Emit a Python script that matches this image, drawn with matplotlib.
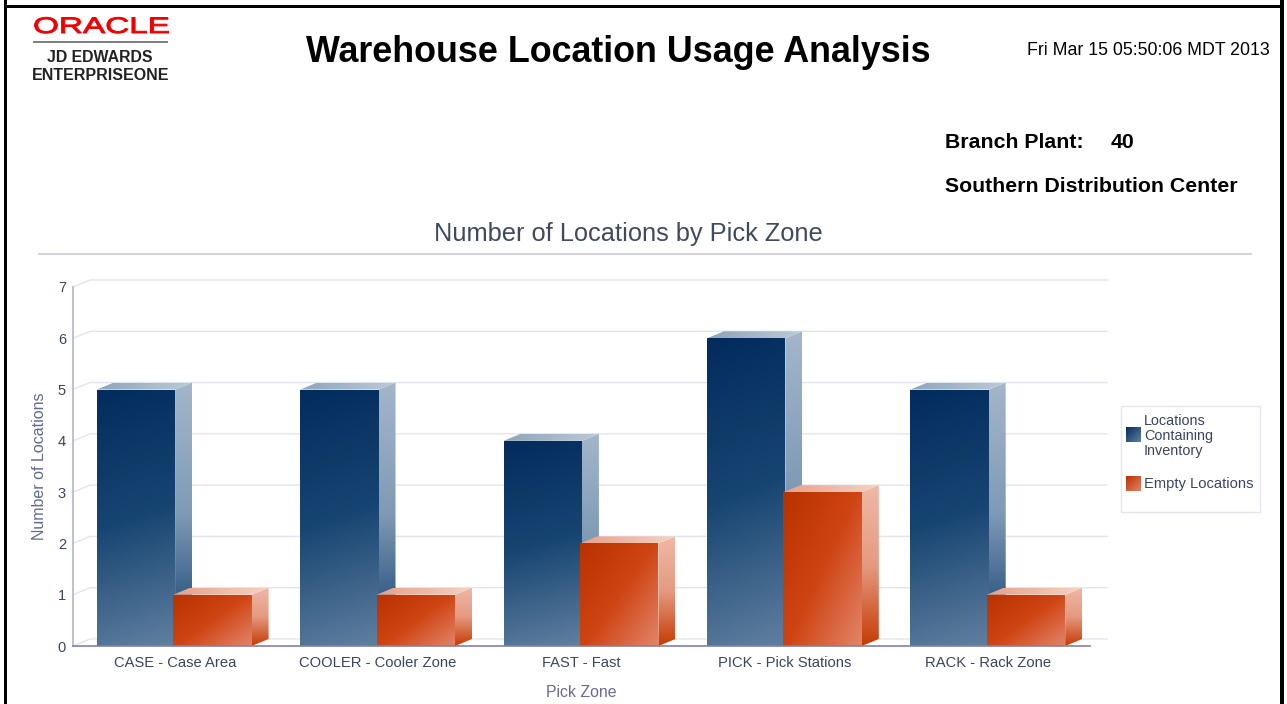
import numpy as np
import matplotlib
matplotlib.use('Agg')
import matplotlib.pyplot as plt
from matplotlib.colors import LinearSegmentedColormap
from matplotlib.patches import Polygon, Rectangle
from matplotlib.patheffects import AbstractPathEffect
from matplotlib.transforms import Affine2D

W, H = 1287, 704

zones = ['CASE - Case Area', 'COOLER - Cooler Zone', 'FAST - Fast',
         'PICK - Pick Stations', 'RACK - Rack Zone']
with_inventory = [5, 5, 4, 6, 5]
empty = [1, 1, 2, 3, 1]
y_ticks = [0, 1, 2, 3, 4, 5, 6, 7]

plt.rcParams['font.family'] = ['Liberation Sans', 'DejaVu Sans']

BLUE = dict(front=('#032c5c', '#174572', '#5f7f9f'), side=('#a3b6ca', '#7f9ab5', '#0f3d6e'),
            top=('#8ea5bb', '#bccad8'), front_dir=(0.1, 1.0), side_dir=(0.0, 1.0))
ORANGE = dict(front=('#b93200', '#cf4413', '#e2846a'), side=('#efb8a6', '#e59a80', '#c63c05'),
              top=('#e8a088', '#f6d2c4'), front_dir=(1.0, 0.9), side_dir=(0.0, 1.0))


def px_x(x):
    return x / W


def px_y(y):
    return 1 - y / H


class StretchX(AbstractPathEffect):
    # the logo lettering is much wider than any installed font
    def __init__(self, sx, x0):
        super().__init__()
        self.sx = sx
        self.x0 = x0

    def draw_path(self, renderer, gc, tpath, affine, rgbFace=None):
        stretch = Affine2D().translate(-self.x0, 0).scale(self.sx, 1).translate(self.x0, 0)
        gc.set_linewidth(0.7)
        renderer.draw_path(gc, tpath, affine + stretch, rgbFace)


def gradient_face(ax, corners, colors, direction, zorder):
    corners = np.array(corners)
    xmin, ymin = corners.min(axis=0)
    xmax, ymax = corners.max(axis=0)
    u, v = np.meshgrid(np.linspace(0, 1, 64), np.linspace(0, 1, 64))
    a, b = direction
    grad = (a * u + b * v) / (a + b)
    cmap = LinearSegmentedColormap.from_list('face', colors)
    im = ax.imshow(grad, cmap=cmap, extent=(xmin, xmax, ymin, ymax), origin='upper',
                   aspect='auto', zorder=zorder, vmin=0, vmax=1, interpolation='bilinear')
    clip = Polygon(corners, closed=True, transform=ax.transData)
    im.set_clip_path(clip)


def bar_3d(ax, left, width, value, dx, dy, style, zorder):
    right = left + width
    gradient_face(ax, [(right, 0), (right + dx, dy), (right + dx, value + dy), (right, value)],
                  style['side'], style['side_dir'], zorder)
    gradient_face(ax, [(left, value), (right, value), (right + dx, value + dy), (left + dx, value + dy)],
                  style['top'], (1.0, 0.0), zorder)
    gradient_face(ax, [(left, 0), (right, 0), (right, value), (left, value)],
                  style['front'], style['front_dir'], zorder + 0.1)


fig = plt.figure(figsize=(W / 100, H / 100), dpi=100, facecolor='white')

# page frame
fig.add_artist(Rectangle((px_x(3.5), px_y(704)), (7 - 3.5) / W, 704 / H, color='black', lw=0, transform=fig.transFigure))
fig.add_artist(Rectangle((px_x(3.5), px_y(7.5)), (1284 - 3.5) / W, 2.5 / H, color='black', lw=0, transform=fig.transFigure))
fig.add_artist(Rectangle((px_x(1280), px_y(704)), 4 / W, 704 / H, color='black', lw=0, transform=fig.transFigure))

# plot area, 73..1090 px across and 287..646 px down
ax = fig.add_axes([px_x(73), px_y(646), (1090 - 73) / W, (646 - 287) / H])
ax.set_xlim(-0.5, 4.5)
ax.set_ylim(0, 7)
ax.patch.set_visible(False)

DX = 17 / (1017 / 5)
DY = 7 / (359 / 7)
BAR_W = 0.385

for v in y_ticks:
    ax.plot([-0.5, -0.5 + DX, 4.5 + DX], [v, v + DY, v + DY], color='#e4e4ef', lw=1.0,
            clip_on=False, zorder=1, solid_joinstyle='miter')

for i in range(len(zones)):
    bar_3d(ax, i - 0.383, BAR_W, with_inventory[i], DX, DY, BLUE, 2)
for i in range(len(zones)):
    bar_3d(ax, i - 0.007, BAR_W, empty[i], DX, DY, ORANGE, 3)

ax.set_xlim(-0.5, 4.5)
ax.set_ylim(0, 7)

for side in ['top', 'right']:
    ax.spines[side].set_visible(False)
ax.spines['left'].set_color('#b4b4d0')
ax.spines['left'].set_linewidth(1.2)
ax.spines['bottom'].set_color('#8080aa')
ax.spines['bottom'].set_linewidth(1.2)
ax.spines['left'].set_zorder(5)
ax.spines['bottom'].set_zorder(5)

ax.set_xticks(range(len(zones)))
ax.set_xticklabels(zones, fontsize=10.6, color='#3a4560')
ax.set_yticks(y_ticks)
ax.set_yticklabels([str(v) for v in y_ticks], fontsize=10.5, color='#3a4560')
ax.tick_params(axis='x', length=0, pad=7)
ax.tick_params(axis='y', length=0, pad=5)
ax.set_xlabel('Pick Zone', fontsize=11.4, color='#6a6a9c', labelpad=11)
ax.set_ylabel('Number of Locations', fontsize=11.5, color='#5e6a92', labelpad=8)

# report header
fig.text(px_x(33), px_y(33), 'ORACLE', fontsize=16.2, color='#f00000', ha='left', va='baseline',
         path_effects=[StretchX(1.48, 33)])
fig.add_artist(Rectangle((px_x(33), px_y(43)), 135 / W, 1.6 / H, color='#808080', lw=0, transform=fig.transFigure))
fig.text(px_x(100), px_y(57), 'JD EDWARDS', fontsize=11.4, fontweight='bold', color='#222222', ha='center', va='center')
fig.text(px_x(101), px_y(76), 'ENTERPRISEONE', fontsize=11.5, fontweight='bold', color='#222222', ha='center', va='center')
fig.text(px_x(618.5), px_y(52), 'Warehouse Location Usage Analysis', fontsize=25.8, fontweight='bold',
         color='black', ha='center', va='center')
fig.text(px_x(1270), px_y(50.5), 'Fri Mar 15 05:50:06 MDT 2013', fontsize=12.8, color='black', ha='right', va='center')
fig.text(px_x(945), px_y(142), 'Branch Plant:', fontsize=15.3, fontweight='bold', color='black', ha='left', va='center')
fig.text(px_x(1111), px_y(142), '40', fontsize=15.3, fontweight='bold', color='black', ha='left', va='center')
fig.text(px_x(945), px_y(186), 'Southern Distribution Center', fontsize=15.3, fontweight='bold', color='black', ha='left', va='center')

# chart title and rule
fig.text(px_x(628), px_y(234), 'Number of Locations by Pick Zone', fontsize=18.3, color='#3f4a5e', ha='center', va='center')
fig.add_artist(Rectangle((px_x(38), px_y(255)), 1214 / W, 1.6 / H, color='#d2d2e6', lw=0, transform=fig.transFigure))

# legend
fig.add_artist(Rectangle((px_x(1120.5), px_y(512)), 139 / W, 106 / H, facecolor='white', edgecolor='#e6e6f0',
                         lw=1, transform=fig.transFigure))
for top, colors in [(427, ('#032c5c', '#5f7f9f')), (476, ('#b93200', '#e2846a'))]:
    sw = fig.add_axes([px_x(1126), px_y(top + 15), 15 / W, 15 / H], zorder=3)
    sw.imshow(np.linspace(0, 1, 32).reshape(1, -1) + np.linspace(0, 1, 32).reshape(-1, 1),
              cmap=LinearSegmentedColormap.from_list('sw', colors), aspect='auto')
    sw.axis('off')
fig.text(px_x(1144), px_y(436), 'Locations\nContaining\nInventory', fontsize=10.4, color='#3a4560',
         ha='left', va='center', linespacing=1.13)
fig.text(px_x(1144), px_y(484), 'Empty Locations', fontsize=10.6, color='#3a4560', ha='left', va='center')

fig.savefig('out.png', dpi=100)
